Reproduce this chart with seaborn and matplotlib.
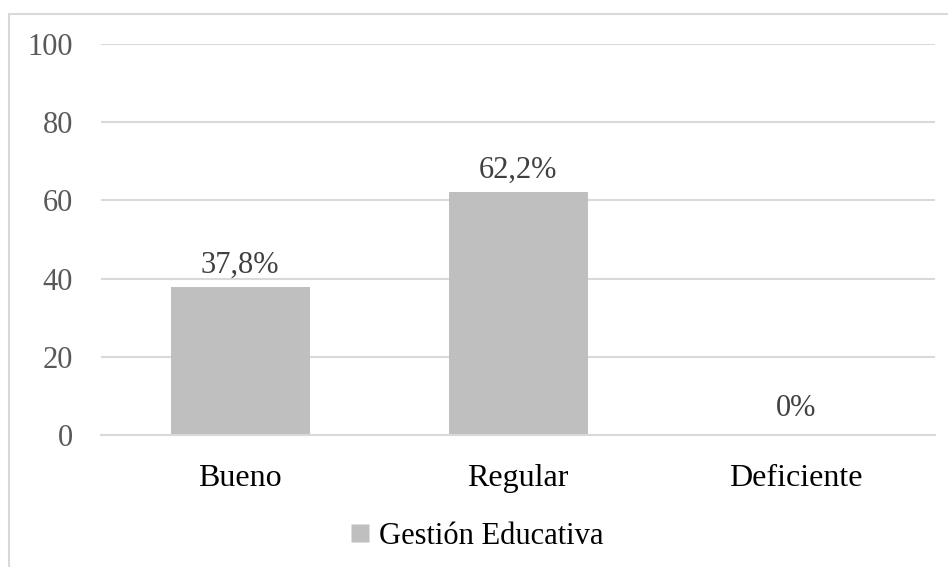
import matplotlib
matplotlib.use("Agg")
import matplotlib.pyplot as plt
from matplotlib.patches import Rectangle
from matplotlib.lines import Line2D
import seaborn as sns
import pandas as pd

categories = ["Bueno", "Regular", "Deficiente"]
values = [37.8, 62.2, 0.0]
value_labels = ["37,8%", "62,2%", "0%"]
series_name = "Gestión Educativa"
y_ticks = [0, 20, 40, 60, 80, 100]

sns.set_theme(style="white")
plt.rcParams["font.family"] = ["Liberation Serif", "DejaVu Serif"]

df = pd.DataFrame({"categoria": categories, "valor": values, "serie": series_name})

fig = plt.figure(figsize=(9.48, 5.67), dpi=100)
ax = fig.add_axes([101 / 948, 1 - 435 / 567, 834 / 948, (435 - 44) / 567])

sns.barplot(data=df, x="categoria", y="valor", hue="serie",
            palette=["#BFBFBF"], width=0.5, legend=False, ax=ax,
            saturation=1, edgecolor="none")

ax.set_ylim(0, 100)
ax.set_yticks(y_ticks)
ax.set_xlim(-0.5, 2.5)
ax.yaxis.grid(True, color="#D9D9D9", linewidth=1.5)
ax.set_axisbelow(True)
for s in ["top", "right", "left"]:
    ax.spines[s].set_visible(False)
ax.spines["bottom"].set_color("#D9D9D9")
ax.spines["bottom"].set_linewidth(1.5)
ax.set_xlabel("")
ax.set_ylabel("")
ax.tick_params(axis="y", length=0, pad=20, labelsize=22, labelcolor="#595959")
ax.tick_params(axis="x", length=0, pad=21, labelsize=23, labelcolor="#000000")

for i, (v, lab) in enumerate(zip(values, value_labels)):
    off = 5 if v > 0 else 9
    ax.annotate(lab, (i, v), xytext=(0, off), textcoords="offset points",
                ha="center", va="bottom", fontsize=22, color="#404040")

handle = Line2D([], [], marker="s", linestyle="none", markersize=13,
                markerfacecolor="#BFBFBF", markeredgecolor="none")
fig.legend([handle], [series_name], loc="center", bbox_to_anchor=(0.5, 1 - 536 / 567),
           frameon=False, fontsize=22, handletextpad=0.1, handlelength=1.0,
           labelcolor="#000000")

fig.patches.append(Rectangle((8.5 / 948, -0.1), 1.2, 1.1 - 13.5 / 567,
                             transform=fig.transFigure, fill=False,
                             edgecolor="#D9D9D9", linewidth=1.5, zorder=0))

fig.savefig("out.png", dpi=100, facecolor="white")
